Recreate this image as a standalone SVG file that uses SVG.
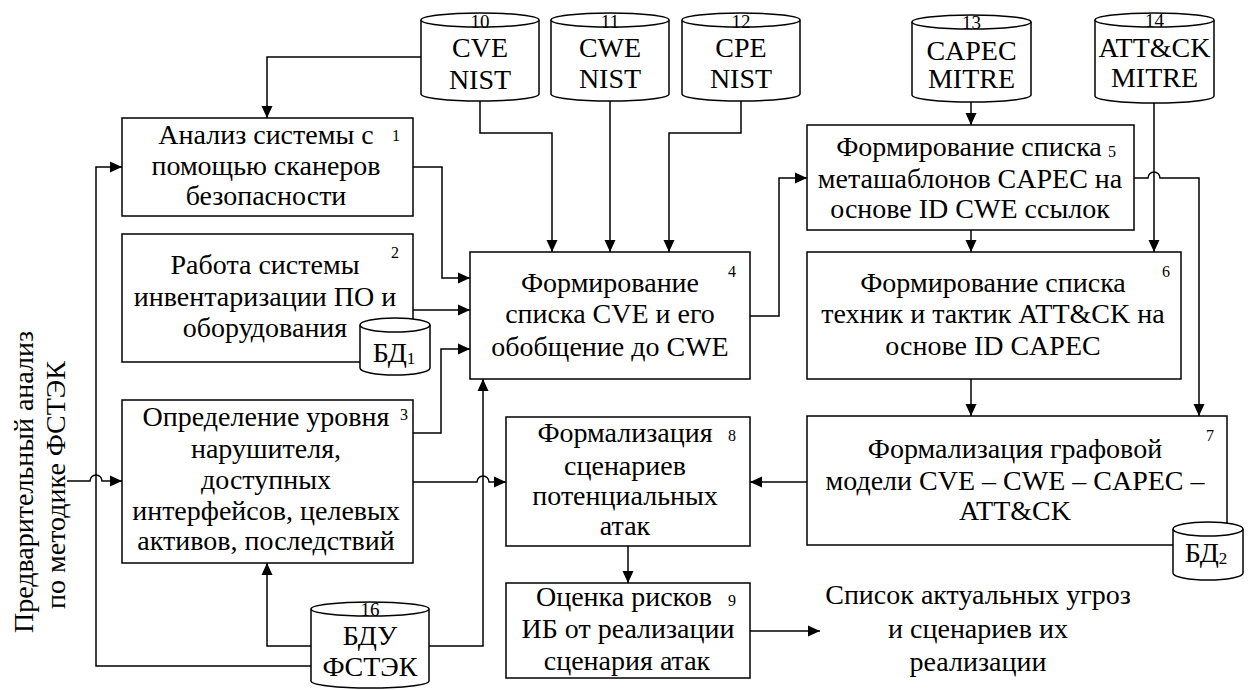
<svg xmlns="http://www.w3.org/2000/svg" width="1251" height="690" viewBox="0 0 1251 690">
  <style>
    .box { fill: #fff; stroke: #000; stroke-width: 1.5; }
    .cyl { fill: #fff; stroke: #000; stroke-width: 1.5; }
    .ln { fill: none; stroke: #000; stroke-width: 1.5; }
    .t { font-family: "Liberation Serif", serif; font-size: 28px; text-anchor: middle; fill: #000; }
    .n { font-family: "Liberation Serif", serif; font-size: 16px; text-anchor: middle; fill: #000; }
    .cn { font-family: "Liberation Serif", serif; font-size: 19px; text-anchor: middle; fill: #000; }
    .sub { font-size: 17px; }
  </style>
  <defs>
    <marker id="arr" markerUnits="userSpaceOnUse" markerWidth="12" markerHeight="12" refX="12" refY="6" orient="auto">
      <path d="M0,0.5 L12,6 L0,11.5 Z" fill="#000"/>
    </marker>
  </defs>

  <!-- connectors -->
  <g id="connectors">
    <path class="ln" d="M421,57 H267 V118" marker-end="url(#arr)"/>
    <path class="ln" d="M311,666 H96 V167 H122" marker-end="url(#arr)"/>
    <path class="ln" d="M413,167 H442 V278 H470" marker-end="url(#arr)"/>
    <path class="ln" d="M413,310 H470" marker-end="url(#arr)"/>
    <path class="ln" d="M413,433 H441 V349 H470" marker-end="url(#arr)"/>
    <path class="ln" d="M480,101 V133 H552 V252" marker-end="url(#arr)"/>
    <path class="ln" d="M610,101 V252" marker-end="url(#arr)"/>
    <path class="ln" d="M741,101 V133 H669 V252" marker-end="url(#arr)"/>
    <path class="ln" d="M750,316 H779 V178 H807" marker-end="url(#arr)"/>
    <path class="ln" d="M971,102 V125" marker-end="url(#arr)"/>
    <path class="ln" d="M1154,103 V252" marker-end="url(#arr)"/>
    <path class="ln" d="M1134,178 H1148 A6,6 0 0 1 1160,178 H1199 V416" marker-end="url(#arr)"/>
    <path class="ln" d="M971,230 V252" marker-end="url(#arr)"/>
    <path class="ln" d="M971,379 V416" marker-end="url(#arr)"/>
    <path class="ln" d="M807,482 H750" marker-end="url(#arr)"/>
    <path class="ln" d="M628,546 V583" marker-end="url(#arr)"/>
    <path class="ln" d="M750,631 H820" marker-end="url(#arr)"/>
    <path class="ln" d="M67,481 H90 A6,6 0 0 1 102,481 H122" marker-end="url(#arr)"/>
    <path class="ln" d="M413,482 H477 A6,6 0 0 1 489,482 H506" marker-end="url(#arr)"/>
    <path class="ln" d="M311,646 H267 V563" marker-end="url(#arr)"/>
    <path class="ln" d="M429,646 H483 V379" marker-end="url(#arr)"/>
  </g>

  <!-- side label -->
  <g id="side-label">
    <text class="t" transform="translate(33,482) rotate(-90)">Предварительный анализ</text>
    <text class="t" transform="translate(65,485) rotate(-90)">по методике ФСТЭК</text>
  </g>

  <!-- process blocks -->
  <g id="n1">
    <rect class="box" x="122" y="118" width="291" height="98"/>
    <text class="t" x="266" y="144">Анализ системы с</text>
    <text class="t" x="266" y="175">помощью сканеров</text>
    <text class="t" x="266" y="205">безопасности</text>
    <text class="n" x="396" y="141">1</text>
  </g>
  <g id="n2">
    <rect class="box" x="122" y="234" width="291" height="128"/>
    <text class="t" x="265" y="274">Работа системы</text>
    <text class="t" x="265" y="306">инвентаризации ПО и</text>
    <text class="t" x="265" y="337">оборудования</text>
    <text class="n" x="395" y="258">2</text>
  </g>
  <g id="db1">
    <path class="cyl" d="M360,325 V368 A35,7 0 0 0 430,368 V325"/>
    <ellipse class="cyl" cx="395" cy="325" rx="35" ry="7"/>
    <text class="t" x="394" y="362">БД<tspan class="sub" dy="2">1</tspan></text>
  </g>
  <g id="n3">
    <rect class="box" x="122" y="400" width="291" height="163"/>
    <text class="t" x="266" y="426">Определение уровня</text>
    <text class="t" x="266" y="458">нарушителя,</text>
    <text class="t" x="266" y="489">доступных</text>
    <text class="t" x="266" y="520">интерфейсов, целевых</text>
    <text class="t" x="266" y="550">активов, последствий</text>
    <text class="n" x="404" y="420">3</text>
  </g>
  <g id="n4">
    <rect class="box" x="470" y="252" width="280" height="127"/>
    <text class="t" x="610" y="292">Формирование</text>
    <text class="t" x="610" y="323">списка CVE и его</text>
    <text class="t" x="610" y="356">обобщение до CWE</text>
    <text class="n" x="732" y="277">4</text>
  </g>
  <g id="n5">
    <rect class="box" x="807" y="125" width="327" height="105"/>
    <text class="t" x="969" y="156">Формирование списка</text>
    <text class="t" x="970" y="188">меташаблонов CAPEC на</text>
    <text class="t" x="970" y="218">основе ID CWE ссылок</text>
    <text class="n" x="1112" y="157">5</text>
  </g>
  <g id="n6">
    <rect class="box" x="807" y="252" width="374" height="127"/>
    <text class="t" x="993" y="292">Формирование списка</text>
    <text class="t" x="993" y="323">техник и тактик ATT&amp;CK на</text>
    <text class="t" x="993" y="355">основе ID CAPEC</text>
    <text class="n" x="1166" y="277">6</text>
  </g>
  <g id="n7">
    <rect class="box" x="807" y="416" width="420" height="129"/>
    <text class="t" x="1015" y="458">Формализация графовой</text>
    <text class="t" x="1015" y="490">модели CVE – CWE – CAPEC –</text>
    <text class="t" x="1015" y="520">ATT&amp;CK</text>
    <text class="n" x="1210" y="441">7</text>
  </g>
  <g id="db2">
    <path class="cyl" d="M1173,529 V573 A35,7 0 0 0 1243,573 V529"/>
    <ellipse class="cyl" cx="1208" cy="529" rx="35" ry="7"/>
    <text class="t" x="1206" y="562">БД<tspan class="sub" dy="2">2</tspan></text>
  </g>
  <g id="n8">
    <rect class="box" x="506" y="417" width="244" height="129"/>
    <text class="t" x="625" y="442">Формализация</text>
    <text class="t" x="625" y="475">сценариев</text>
    <text class="t" x="625" y="505">потенциальных</text>
    <text class="t" x="625" y="535">атак</text>
    <text class="n" x="732" y="441">8</text>
  </g>
  <g id="n9">
    <rect class="box" x="506" y="583" width="244" height="95"/>
    <text class="t" x="624" y="606">Оценка рисков</text>
    <text class="t" x="628" y="638">ИБ от реализации</text>
    <text class="t" x="627" y="670">сценария атак</text>
    <text class="n" x="732" y="606">9</text>
  </g>
  <g id="result">
    <text class="t" x="978" y="604">Список актуальных угроз</text>
    <text class="t" x="978" y="638">и сценариев их</text>
    <text class="t" x="978" y="671">реализации</text>
  </g>

  <!-- data sources -->
  <g id="db10">
    <path class="cyl" d="M421,20 V94 A59,7 0 0 0 539,94 V20"/>
    <ellipse class="cyl" cx="480" cy="20" rx="59" ry="7"/>
    <text class="cn" x="480" y="28">10</text>
    <text class="t" x="480" y="57">CVE</text>
    <text class="t" x="480" y="89">NIST</text>
  </g>
  <g id="db11">
    <path class="cyl" d="M551,20 V94 A59,7 0 0 0 669,94 V20"/>
    <ellipse class="cyl" cx="610" cy="20" rx="59" ry="7"/>
    <text class="cn" x="610" y="28">11</text>
    <text class="t" x="610" y="57">CWE</text>
    <text class="t" x="610" y="88">NIST</text>
  </g>
  <g id="db12">
    <path class="cyl" d="M682,20 V94 A59,7 0 0 0 800,94 V20"/>
    <ellipse class="cyl" cx="741" cy="20" rx="59" ry="7"/>
    <text class="cn" x="741" y="28">12</text>
    <text class="t" x="741" y="57">CPE</text>
    <text class="t" x="741" y="88">NIST</text>
  </g>
  <g id="db13">
    <path class="cyl" d="M912,22 V95 A59.5,7 0 0 0 1031,95 V22"/>
    <ellipse class="cyl" cx="971.5" cy="22" rx="59.5" ry="7"/>
    <text class="cn" x="971.5" y="29">13</text>
    <text class="t" x="971.5" y="60">CAPEC</text>
    <text class="t" x="971.5" y="88">MITRE</text>
  </g>
  <g id="db14">
    <path class="cyl" d="M1095,20 V96 A59.5,7 0 0 0 1214,96 V20"/>
    <ellipse class="cyl" cx="1154.5" cy="20" rx="59.5" ry="7"/>
    <text class="cn" x="1154.5" y="27">14</text>
    <text class="t" x="1154.5" y="57">ATT&amp;CK</text>
    <text class="t" x="1154.5" y="87">MITRE</text>
  </g>
  <g id="db16">
    <path class="cyl" d="M311,609 V681 A59,7 0 0 0 429,681 V609"/>
    <ellipse class="cyl" cx="370" cy="609" rx="59" ry="7"/>
    <text class="cn" x="370" y="616">16</text>
    <text class="t" x="370" y="645">БДУ</text>
    <text class="t" x="370" y="676">ФСТЭК</text>
  </g>
</svg>
